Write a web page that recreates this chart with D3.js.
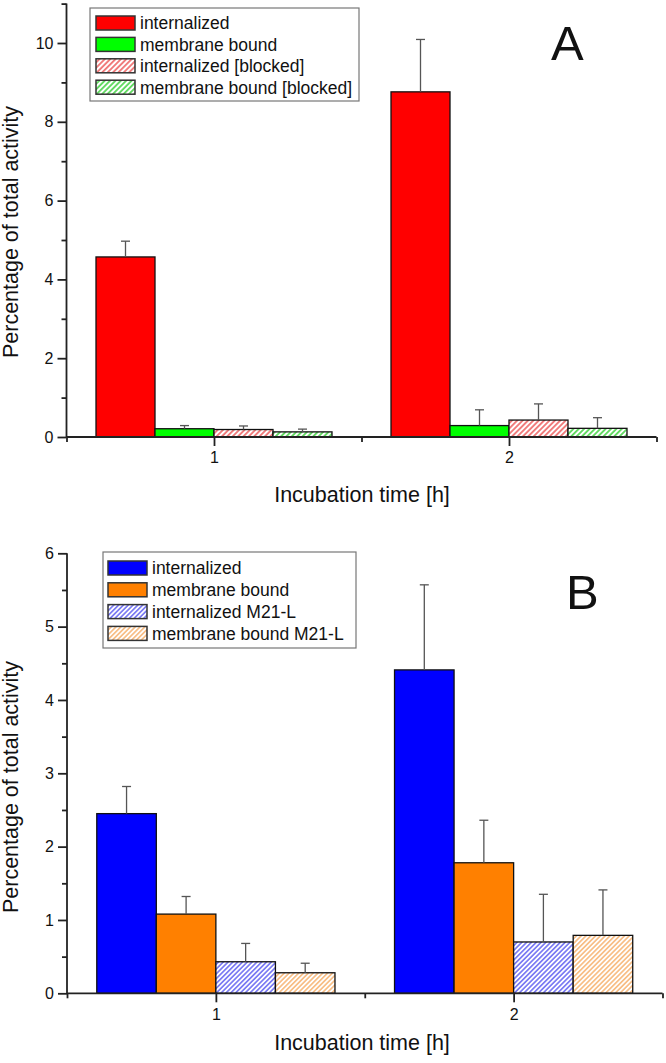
<!DOCTYPE html>
<html><head><meta charset="utf-8">
<script src="https://cdn.jsdelivr.net/npm/d3@7"></script>
<style>
html,body{margin:0;padding:0;background:#fff;}
svg text{font-family:"Liberation Sans",Arial,sans-serif;fill:#111;}
</style>
</head><body>
<svg id="c" width="666" height="1063"></svg>
<script>
// ---------- data ----------
const groups = [1, 2];
const xTickLabels = ["1", "2"];

// Panel A
const labelsA = ["internalized", "membrane bound", "internalized [blocked]", "membrane bound [blocked]"];
const aInternalized = [4.57, 8.76];
const aInternalizedErr = [0.40, 1.33];
const aMembrane = [0.21, 0.29];
const aMembraneErr = [0.08, 0.40];
const aIntBlocked = [0.19, 0.43];
const aIntBlockedErr = [0.09, 0.41];
const aMemBlocked = [0.13, 0.22];
const aMemBlockedErr = [0.07, 0.27];
const yTicksA = [0, 2, 4, 6, 8, 10];
const yMinorA = [1, 3, 5, 7, 9, 11];

// Panel B
const labelsB = ["internalized", "membrane bound", "internalized M21-L", "membrane bound M21-L"];
const bInternalized = [2.45, 4.41];
const bInternalizedErr = [0.37, 1.16];
const bMembrane = [1.08, 1.78];
const bMembraneErr = [0.24, 0.58];
const bIntM21 = [0.43, 0.70];
const bIntM21Err = [0.25, 0.65];
const bMemM21 = [0.28, 0.79];
const bMemM21Err = [0.13, 0.62];
const yTicksB = [0, 1, 2, 3, 4, 5, 6];
const yMinorB = [0.5, 1.5, 2.5, 3.5, 4.5, 5.5];

// ---------- drawing ----------
const svg = d3.select("#c");
const defs = svg.append("defs");
function hatch(id, color, size, sw) {
  const p = defs.append("pattern").attr("id", id).attr("patternUnits", "userSpaceOnUse")
    .attr("width", size).attr("height", size).attr("patternTransform", "rotate(45)");
  p.append("rect").attr("width", size).attr("height", size).attr("fill", "#fff");
  p.append("line").attr("x1", size/2).attr("y1", 0).attr("x2", size/2).attr("y2", size)
    .attr("stroke", color).attr("stroke-width", sw);
}
hatch("hRed", "#f07474", 3.8, 1.8);
hatch("hGreen", "#5ad85a", 3.8, 1.8);
hatch("hBlue", "#6a6af2", 3.4, 1.5);
hatch("hOrange", "#f7b676", 3.4, 1.5);

function panel(cfg) {
  const g = svg.append("g");
  const x = d3.scaleLinear().domain([0.5, 2.5]).range(cfg.xRange);
  const y = d3.scaleLinear().domain(cfg.yDomain).range(cfg.yRange);
  const bw = 0.2;
  const offsets = [-0.4, -0.2, 0, 0.2];

  cfg.series.forEach((s, si) => {
    const sg = g.append("g");
    sg.selectAll("rect").data(groups).join("rect")
      .attr("x", (d) => x(d + offsets[si]))
      .attr("width", (d) => x(d + offsets[si] + bw) - x(d + offsets[si]))
      .attr("y", (d, i) => y(s.values[i]))
      .attr("height", (d, i) => y(0) - y(s.values[i]))
      .attr("fill", s.fill).attr("stroke", "#111").attr("stroke-width", 1.3);
  });
  cfg.series.forEach((s, si) => {
    const eg = g.append("g").attr("stroke", "#555").attr("stroke-width", 1.3);
    groups.forEach((d, i) => {
      const cx = x(d + offsets[si] + bw/2);
      const top = y(s.values[i] + s.err[i]);
      eg.append("line").attr("x1", cx).attr("x2", cx).attr("y1", y(s.values[i])).attr("y2", top);
      eg.append("line").attr("x1", cx - 4.5).attr("x2", cx + 4.5).attr("y1", top).attr("y2", top);
    });
  });

  // axes
  const yAx = d3.axisLeft(y).tickValues(cfg.yTicks).tickSize(9).tickPadding(4).tickFormat(d3.format("d"));
  const yAxG = g.append("g").attr("transform", `translate(${cfg.xRange[0]},0)`).call(yAx);
  const yMin = d3.axisLeft(y).tickValues(cfg.yMinor).tickSize(5).tickFormat("");
  const yMinG = g.append("g").attr("transform", `translate(${cfg.xRange[0]},0)`).call(yMin);
  yMinG.select(".domain").remove();
  const xAx = d3.axisBottom(x).tickValues(groups).tickSize(9).tickPadding(6).tickFormat((d, i) => xTickLabels[i]);
  const xAxG = g.append("g").attr("transform", `translate(0,${y(0)})`).call(xAx);
  const xMin = d3.axisBottom(x).tickValues([0.5, 1.5, 2.5]).tickSize(5).tickFormat("");
  const xMinG = g.append("g").attr("transform", `translate(0,${y(0)})`).call(xMin);
  xMinG.select(".domain").remove();
  [yAxG, yMinG, xAxG, xMinG].forEach(a => {
    a.selectAll("path,line").attr("stroke", "#222").attr("stroke-width", 1.8);
    a.select(".domain").attr("d", null);
  });
  yAxG.select(".domain").remove();
  xAxG.select(".domain").remove();
  g.append("line").attr("x1", cfg.xRange[0]).attr("x2", cfg.xRange[0])
    .attr("y1", y(0)).attr("y2", cfg.yRange[1]).attr("stroke", "#222").attr("stroke-width", 1.8);
  g.append("line").attr("x1", cfg.xRange[0]).attr("x2", cfg.xRange[1])
    .attr("y1", y(0)).attr("y2", y(0)).attr("stroke", "#222").attr("stroke-width", 1.8);
  [yAxG, xAxG].forEach(a => a.selectAll("text").attr("font-size", 16).attr("font-family", '"Liberation Sans",Arial,sans-serif').attr("fill", "#222"));

  // titles
  g.append("text").attr("transform", `translate(18,${cfg.yTitleY}) rotate(-90)`)
    .attr("text-anchor", "middle").attr("font-size", 21.5).text("Percentage of total activity");
  g.append("text").attr("x", 362).attr("y", cfg.xTitleY).attr("text-anchor", "middle")
    .attr("font-size", 21.5).text("Incubation time [h]");
  g.append("text").attr("x", cfg.letterX).attr("y", cfg.letterY).attr("font-size", 49).text(cfg.letter);

  // legend
  const L = cfg.legend;
  g.append("rect").attr("x", L.x).attr("y", L.y).attr("width", L.w).attr("height", L.h)
    .attr("fill", "#fff").attr("stroke", "#777").attr("stroke-width", 1.2);
  cfg.series.forEach((s, i) => {
    const cy = L.y + L.first + i * L.step;
    g.append("rect").attr("x", L.sx).attr("y", cy - 7).attr("width", 39).attr("height", 14)
      .attr("fill", s.fill).attr("stroke", "#333").attr("stroke-width", 1.5);
    g.append("text").attr("x", L.sx + 44).attr("y", cy).attr("dy", "0.36em")
      .attr("font-size", 17.5).text(cfg.labels[i]);
  });
}

panel({
  xRange: [66.5, 656.5], yDomain: [0, 11], yRange: [437, 3.6],
  yTicks: yTicksA, yMinor: yMinorA, yTitleY: 232, xTitleY: 502,
  letter: "A", letterX: 551, letterY: 60, labels: labelsA,
  legend: {x: 90, y: 8, w: 269, h: 93, sx: 96, first: 15, step: 21.4},
  series: [
    {values: aInternalized, err: aInternalizedErr, fill: "#ff0000"},
    {values: aMembrane, err: aMembraneErr, fill: "#00ff00"},
    {values: aIntBlocked, err: aIntBlockedErr, fill: "url(#hRed)"},
    {values: aMemBlocked, err: aMemBlockedErr, fill: "url(#hGreen)"}
  ]
});
panel({
  xRange: [67, 662.5], yDomain: [0, 6], yRange: [993.3, 553.3],
  yTicks: yTicksB, yMinor: yMinorB, yTitleY: 787, xTitleY: 1050,
  letter: "B", letterX: 566, letterY: 609, labels: labelsB,
  legend: {x: 103, y: 552, w: 253, h: 96, sx: 108, first: 16, step: 21.8},
  series: [
    {values: bInternalized, err: bInternalizedErr, fill: "#0000ff"},
    {values: bMembrane, err: bMembraneErr, fill: "#ff8000"},
    {values: bIntM21, err: bIntM21Err, fill: "url(#hBlue)"},
    {values: bMemM21, err: bMemM21Err, fill: "url(#hOrange)"}
  ]
});
</script>
</body></html>
